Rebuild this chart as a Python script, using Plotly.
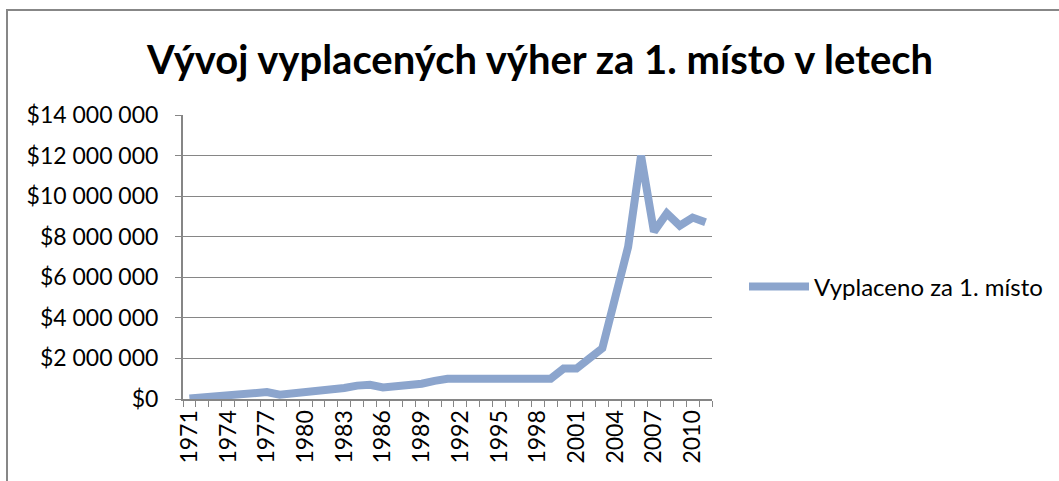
import plotly.graph_objects as go

years = list(range(1971, 2012))
prize = [30000, 80000, 130000, 160000, 210000, 220000, 340000, 210000, 270000, 365000,
         375000, 520000, 540000, 660000, 700000, 570000, 625000, 700000, 755000, 895000,
         1000000, 1000000, 1000000, 1000000, 1000000, 1000000, 1000000, 1000000, 1000000, 1500000,
         1500000, 2000000, 2500000, 5000000, 7500000, 12000000, 8250000, 9152416, 8546435, 8944310,
         8715638]
series_name = "Vyplaceno za 1. místo"
title_text = "Vývoj vyplacených výher za 1. místo v letech"
y_ticks = [0, 2000000, 4000000, 6000000, 8000000, 10000000, 12000000, 14000000]
y_labels = ["$" + f"{v:,}".replace(",", " ") for v in y_ticks]
x_ticks = years[::3]

W, H = 1059, 481
L, R, T, B = 183, 347, 115, 82
pw, ph = W - L - R, H - T - B

font_family = "Lato, 'Open Sans', sans-serif"
grid_col = "#868686"
line_col = "#8CA5CD"

fig = go.Figure()
fig.add_trace(go.Scatter(
    x=years, y=prize, mode="lines", name=series_name,
    line=dict(color=line_col, width=8, shape="linear"),
    showlegend=True,
))

def px_x(p):
    return (p - L) / pw

def px_y(p):
    return (H - B - p) / ph

fig.update_layout(
    width=W, height=H,
    margin=dict(l=L, r=R, t=T, b=B, autoexpand=False),
    paper_bgcolor="white", plot_bgcolor="white",
    font=dict(family=font_family, size=23, color="black"),
    title=dict(text="<b>" + title_text + "</b>", x=540 / W, xanchor="center",
               y=1 - 60 / H, yanchor="middle",
               font=dict(family=font_family, size=40, color="black")),
    showlegend=True,
    legend=dict(x=px_x(744), y=px_y(287), xanchor="left", yanchor="middle",
                font=dict(size=24), bgcolor="rgba(0,0,0,0)", itemwidth=60),
    xaxis=dict(
        range=[1970.5, 2011.5], tickmode="array", tickvals=x_ticks,
        ticktext=[str(y) for y in x_ticks], tickangle=-90, ticks="",
        showgrid=False, zeroline=False, showline=True, linecolor=grid_col, linewidth=2,
        minor=dict(tickmode="array", tickvals=[y - 0.5 for y in years] + [2011.5],
                   ticks="outside", ticklen=6, tickcolor=grid_col, tickwidth=1, showgrid=False),
        tickfont=dict(size=23), fixedrange=True, automargin=False,
    ),
    yaxis=dict(
        range=[0, 14000000], tickmode="array", tickvals=y_ticks, ticktext=y_labels,
        ticks="outside", ticklen=6, tickcolor=grid_col, showgrid=True, gridcolor=grid_col,
        gridwidth=1, zeroline=False, showline=True, linecolor=grid_col, linewidth=2,
        tickfont=dict(size=23), fixedrange=True, automargin=False, ticklabelstandoff=12,
    ),
    shapes=[dict(type="rect", xref="paper", yref="paper",
                 x0=px_x(7), x1=px_x(1070), y0=px_y(500), y1=px_y(10),
                 line=dict(color="#878787", width=2), fillcolor="rgba(0,0,0,0)", layer="below")],
)

fig.write_html("out.html", config={"displayModeBar": False},
               post_script="document.body.style.margin='0';")
